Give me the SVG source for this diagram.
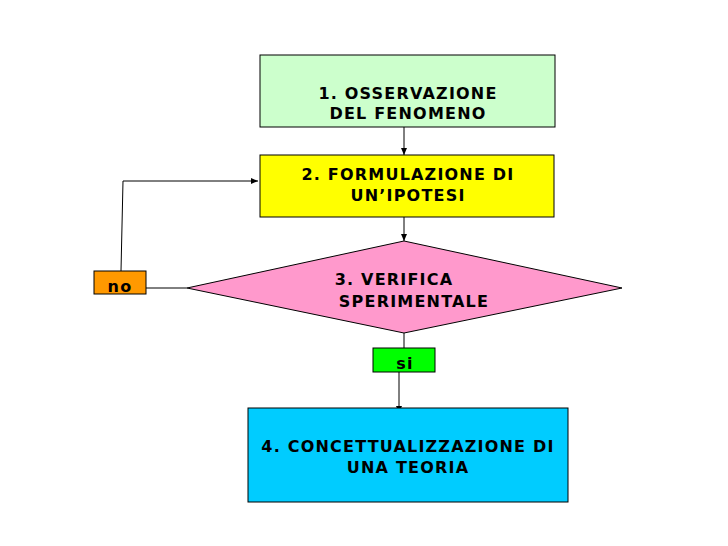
<svg xmlns="http://www.w3.org/2000/svg" width="728" height="546" viewBox="0 0 728 546">
<style>
.box{stroke:#000;stroke-width:1}
.t{font-family:"DejaVu Sans",sans-serif;font-weight:bold;font-size:16px;letter-spacing:1.2px;fill:#000;text-anchor:middle}
.c{stroke:#000;stroke-width:1;fill:none}
</style>
<defs>
<marker id="a" markerWidth="8" markerHeight="8" refX="7" refY="4" orient="auto" markerUnits="userSpaceOnUse">
<path d="M0,1 L7,4 L0,7 Z" fill="#000"/>
</marker>
</defs>
<rect width="728" height="546" fill="#fff"/>
<g id="connectors">
<line class="c" x1="404" y1="127" x2="404" y2="155" marker-end="url(#a)"/>
<line class="c" x1="404" y1="217" x2="404" y2="241" marker-end="url(#a)"/>
<line class="c" x1="146" y1="288" x2="187" y2="288"/>
<polyline class="c" points="121,271 123,181 258,181" marker-end="url(#a)"/>
<line class="c" x1="404" y1="333" x2="404" y2="348"/>
<line class="c" x1="399" y1="372" x2="399" y2="413" marker-end="url(#a)"/>
</g>
<g id="n1">
<rect class="box" x="260" y="55" width="295" height="72" fill="#CCFFCC"/>
<text class="t" x="408" y="99">1. OSSERVAZIONE</text>
<text class="t" x="408" y="119">DEL FENOMENO</text>
</g>
<g id="n2">
<rect class="box" x="260" y="155" width="294" height="62" fill="#FFFF00"/>
<text class="t" x="408" y="180">2. FORMULAZIONE DI</text>
<text class="t" x="408" y="201">UN’IPOTESI</text>
</g>
<g id="n3">
<polygon class="box" points="187,288 404,241 622,288 404,333" fill="#FF99CC"/>
<text class="t" x="394" y="285">3. VERIFICA</text>
<text class="t" x="414" y="307">SPERIMENTALE</text>
</g>
<g id="no">
<rect class="box" x="94" y="271" width="52" height="23" fill="#FF9900"/>
<text class="t" x="120" y="292">no</text>
</g>
<g id="si">
<rect class="box" x="373" y="348" width="62" height="24" fill="#00FF00"/>
<text class="t" x="405" y="369">si</text>
</g>
<g id="n4">
<rect class="box" x="248" y="408" width="320" height="94" fill="#00CCFF"/>
<text class="t" x="408" y="452">4. CONCETTUALIZZAZIONE DI</text>
<text class="t" x="408" y="473">UNA TEORIA</text>
</g>
</svg>
